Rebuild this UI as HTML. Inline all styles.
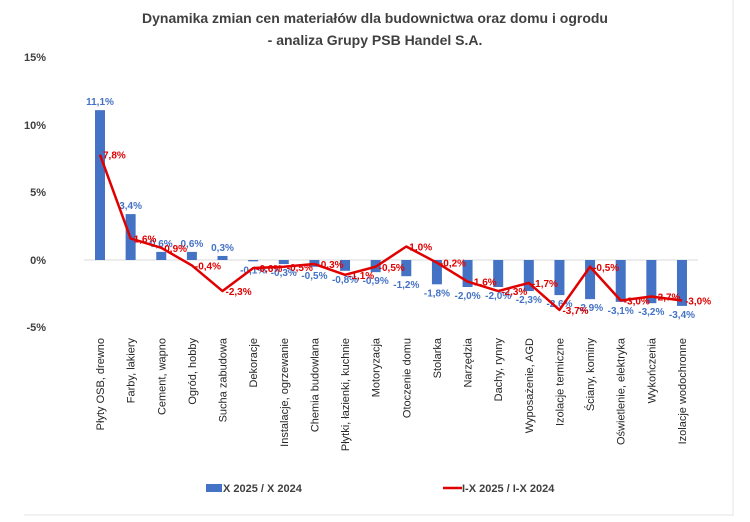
<!DOCTYPE html>
<html><head><meta charset="utf-8"><style>
html,body{margin:0;padding:0;background:#fff;}
svg{display:block;font-family:"Liberation Sans",sans-serif;}
</style></head><body>
<svg width="750" height="522" viewBox="0 0 750 522" xmlns="http://www.w3.org/2000/svg">
<rect x="0" y="0" width="750" height="522" fill="#fff"/>
<rect x="24" y="4" width="475" height="514" fill="none" stroke="#ffffff"/>
<line x1="733" y1="0" x2="733" y2="516" stroke="#e6e6e6"/>
<line x1="24" y1="515" x2="733" y2="515" stroke="#e6e6e6"/>
<text x="375" y="23" text-anchor="middle" font-size="14" font-weight="bold" fill="#404040">Dynamika zmian cen materiałów dla budownictwa oraz domu i ogrodu</text>
<text x="375" y="45" text-anchor="middle" font-size="14" font-weight="bold" fill="#404040">- analiza Grupy PSB Handel S.A.</text>
<g font-size="11" font-weight="bold" fill="#404040" text-anchor="end">
<text x="46" y="61">15%</text><text x="46" y="129">10%</text><text x="46" y="196">5%</text><text x="46" y="264">0%</text><text x="46" y="331">-5%</text>
</g>
<line x1="84" y1="260" x2="698" y2="260" stroke="#d9d9d9"/>
<g id="c"></g>
</svg>
<script>
const bars=[11.1,3.4,0.6,0.6,0.3,-0.1,-0.3,-0.5,-0.8,-0.9,-1.2,-1.8,-2.0,-2.0,-2.3,-2.6,-2.9,-3.1,-3.2,-3.4];
const line=[7.8,1.6,0.9,-0.4,-2.3,-0.6,-0.5,-0.3,-1.1,-0.5,1.0,-0.2,-1.6,-2.3,-1.7,-3.7,-0.5,-3.0,-2.7,-3.0];
const cats=["Płyty OSB, drewno","Farby, lakiery","Cement, wapno","Ogród, hobby","Sucha zabudowa","Dekoracje","Instalacje, ogrzewanie","Chemia budowlana","Płytki, łazienki, kuchnie","Motoryzacja","Otoczenie domu","Stolarka","Narzędzia","Dachy, rynny","Wyposażenie, AGD","Izolacje termiczne","Ściany, kominy","Oświetlenie, elektryka","Wykończenia","Izolacje wodochronne"];
const y=v=>260-v*13.5, x=i=>100+i*30.63;
const f=v=>v.toFixed(1).replace('.',',')+'%';
let s='';
bars.forEach((v,i)=>{const t=Math.min(y(v),260),h=Math.abs(y(v)-260);
s+=`<rect x="${x(i)-5}" y="${t}" width="10" height="${Math.max(h,1)}" fill="#4472c4"/>`;
const ly=v>=0?y(v)-5:y(v)+12;
s+=`<text x="${x(i)}" y="${ly}" text-anchor="middle" font-size="10" font-weight="bold" fill="#4472c4">${f(v)}</text>`;});
s+=`<polyline fill="none" stroke="#e00000" stroke-width="2.5" stroke-linejoin="round" points="${line.map((v,i)=>x(i)+','+y(v)).join(' ')}"/>`;
line.forEach((v,i)=>{s+=`<text x="${x(i)+3}" y="${y(v)+4}" font-size="10" font-weight="bold" fill="#e00000">${f(v)}</text>`;});
cats.forEach((c,i)=>{s+=`<text transform="translate(${x(i)+4},338) rotate(-90)" text-anchor="end" font-size="11" fill="#262626">${c}</text>`;});
s+=`<rect x="206" y="484" width="16" height="8" fill="#4472c4"/><text x="223" y="492" font-size="11" font-weight="bold" fill="#404040">X 2025 / X 2024</text>`;
s+=`<line x1="443" y1="488" x2="462" y2="488" stroke="#e00000" stroke-width="2.5"/><text x="462" y="492" font-size="11" font-weight="bold" fill="#404040">I-X 2025 / I-X 2024</text>`;
document.getElementById('c').innerHTML=s;
</script>
</body></html>
